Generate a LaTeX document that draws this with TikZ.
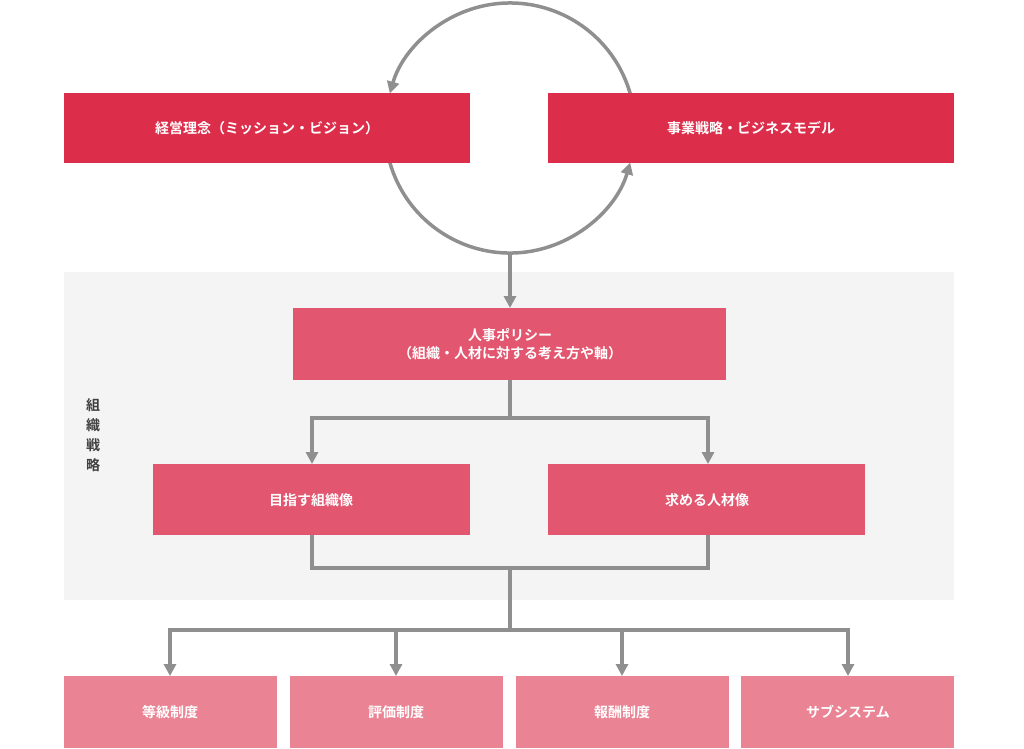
\documentclass[tikz,border=0pt]{standalone}
\usepackage{fontspec}
\setmainfont{Noto Sans CJK JP}[BoldFont={* Bold}]
\usetikzlibrary{arrows.meta}
\definecolor{cA}{HTML}{DC2E4B}
\definecolor{cB}{HTML}{E2566F}
\definecolor{cC}{HTML}{EA8494}
\definecolor{ln}{HTML}{8F8F8F}
\definecolor{bg}{HTML}{F4F4F4}
\tikzset{
 bx/.style={inner sep=0, text=white, font=\bfseries\fontsize{14}{18}\selectfont, align=center},
 conn/.style={draw=ln, line width=3.5pt},
 arr/.style={conn, -{Triangle[length=12pt,width=12pt]}}
}
\begin{document}
\begin{tikzpicture}[x=1pt,y=-1pt]
\useasboundingbox (0,0) rectangle (1024,748);
\fill[bg] (64,272) rectangle (954,600);
\node[text=black!75,font=\bfseries\fontsize{14}{20}\selectfont,align=center] (lbl) at (93,435) {組\\織\\戦\\略};
% circle
\draw[arr] ([shift={(164:125)}]510,128) arc[start angle=164,end angle=16,radius=125];
\draw[arr] ([shift={(-16:125)}]510,128) arc[start angle=-16,end angle=-164,radius=125];
\coordinate (cb) at (510,253);
% boxes
\fill[cA] (64,93) rectangle (470,163); \node[bx] (m) at (267,128) {経営理念（ミッション・ビジョン）};
\fill[cA] (548,93) rectangle (954,163); \node[bx] (s) at (751,128) {事業戦略・ビジネスモデル};
\fill[cB] (293,308) rectangle (726,380); \node[bx] (p) at (510,344) {人事ポリシー\\（組織・人材に対する考え方や軸）};
\coordinate (pt) at (510,308);
\fill[cB] (153,464) rectangle (470,535); \node[bx] (o) at (311,500) {目指す組織像};
\fill[cB] (548,464) rectangle (865,535); \node[bx] (h) at (707,500) {求める人材像};
\fill[cC] (64,676) rectangle (277,748); \node[bx] (b1) at (170,712) {等級制度};
\fill[cC] (290,676) rectangle (503,748); \node[bx] (b2) at (396,712) {評価制度};
\fill[cC] (516,676) rectangle (729,748); \node[bx] (b3) at (622,712) {報酬制度};
\fill[cC] (741,676) rectangle (954,748); \node[bx] (b4) at (848,712) {サブシステム};
\draw[arr] (cb) -- (pt);
\draw[conn] (510,380) -- (510,418);
\draw[conn] (312,418) -- (708,418);
\draw[arr] (312,416.25) -- (312,464);
\draw[arr] (708,416.25) -- (708,464);
\draw[conn] (312,535) -- (312,568) -- (708,568) -- (708,535);
\draw[conn] (510,568) -- (510,630);
\draw[conn] (170,630) -- (848,630);
\foreach \x in {170,396,622,848}{\draw[arr] (\x,628.25) -- (\x,676);}
\end{tikzpicture}
\end{document}
